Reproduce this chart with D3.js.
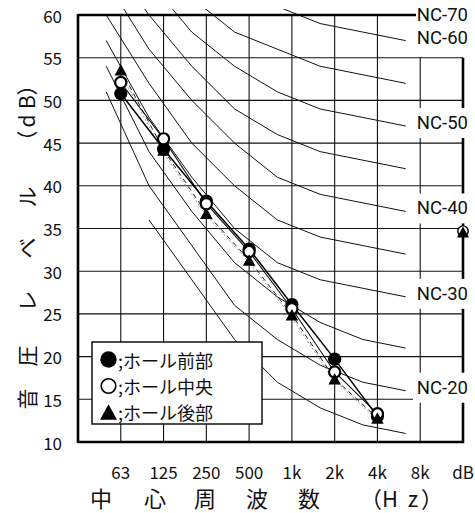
<!DOCTYPE html>
<html><head><meta charset="utf-8">
<script src="https://cdn.jsdelivr.net/npm/d3@7"></script>
<style>body{margin:0;background:#fff}svg{display:block}</style>
</head><body><svg id="c" width="475" height="513"></svg>
<script>
// ---- data ----
const bands = ["63","125","250","500","1k","2k","4k","8k","dB"];
const yTicks = [10,15,20,25,30,35,40,45,50,55,60];
const frontLv  = [50.8, 44.3, 38.2, 32.6, 26.1, 19.7, 13.0]; // ● ホール前部
const centerLv = [52.1, 45.5, 37.9, 32.3, 25.6, 18.2, 13.3]; // ○ ホール中央
const rearLv   = [53.6, 44.2, 36.8, 31.3, 24.9, 17.4, 12.8]; // ▲ ホール後部
const overallLv = [34.7, 34.7, 34.6]; // dB column: 前部, 中央, 後部
const ncNames = ["NC-15","NC-20","NC-25","NC-30","NC-35","NC-40","NC-45","NC-50","NC-55","NC-60","NC-65","NC-70"];
const ncCurves = [
  [null,36,29,22,17,14,12,11],
  [51,40,33,26,22,19,17,16],
  [54,44,37,31,27,24,22,21],
  [57,48,41,35,31,29,28,27],
  [60,52,45,40,36,34,33,32],
  [64,56,50,45,41,39,38,37],
  [67,60,54,49,46,44,43,42],
  [71,64,58,54,51,49,48,47],
  [74,67,62,58,56,54,53,52],
  [77,71,67,63,61,59,58,57],
  [80,75,71,68,66,64,63,62],
  [83,79,75,72,71,70,69,68]
];
const ncLabelled = ["NC-20","NC-30","NC-40","NC-50","NC-60","NC-70"];
const legendItems = [";ホール前部", ";ホール中央", ";ホール後部"];

// ---- scales ----
const svg = d3.select("#c");
const x = d3.scaleLinear().domain([-1, bands.length - 1]).range([78, 463]);
const y = d3.scaleLinear().domain([10, 60]).range([442, 15]);
const FONT = "'Noto Sans CJK JP','Noto Sans',sans-serif";
const NCFONT = "Roboto,'Noto Sans',sans-serif";
const ncShift = -0.34;

// gridlines
const g = svg.append("g");
yTicks.filter(v => v > 10 && v < 60).forEach(v => {
  g.append("line").attr("x1", x(-1)).attr("x2", x(8)).attr("y1", y(v)).attr("y2", y(v))
    .attr("stroke", "#111").attr("stroke-width", 1.1);
});
bands.slice(0, 7).forEach((b, i) => {
  g.append("line").attr("x1", x(i)).attr("x2", x(i)).attr("y1", y(60)).attr("y2", y(10))
    .attr("stroke", "#111").attr("stroke-width", 1.1);
});
g.append("line").attr("x1", x(7)).attr("x2", x(7)).attr("y1", y(55)).attr("y2", y(10))
  .attr("stroke", "#111").attr("stroke-width", 1.1);

// NC curves
svg.append("clipPath").attr("id", "clip").append("rect")
  .attr("x", x(-1)).attr("y", 9).attr("width", 392).attr("height", y(10) - 9);
const ncLine = d3.line().defined(d => d != null)
  .x((d, i) => x(i + ncShift)).y(d => y(d));
svg.append("g").attr("clip-path", "url(#clip)").selectAll("path").data(ncCurves).join("path")
  .attr("d", ncLine).attr("fill", "none").attr("stroke", "#111").attr("stroke-width", 1);

// frame
const fr = svg.append("g").attr("stroke", "#000").attr("stroke-width", 2.6).attr("fill", "none");
fr.append("line").attr("x1", x(-1)).attr("x2", x(-1)).attr("y1", y(60) - 1).attr("y2", y(10) + 1);
fr.append("line").attr("x1", x(-1)).attr("x2", x(8) + 1).attr("y1", y(10)).attr("y2", y(10));
fr.append("line").attr("x1", x(-1)).attr("x2", 416).attr("y1", y(60)).attr("y2", y(60));
fr.append("line").attr("x1", x(8)).attr("x2", x(8)).attr("y1", y(55)).attr("y2", y(10) + 1);

// NC labels
ncLabelled.forEach(n => {
  const k = ncNames.indexOf(n);
  const ly = Math.max(y(ncCurves[k][7]) - 3, y(60) - 0.5);
  if (n !== "NC-70" && n !== "NC-60")
    svg.append("rect").attr("x", 413).attr("y", ly - 15).attr("width", 62).attr("height", 30).attr("fill", "#fff");
  svg.append("text").attr("x", 468).attr("y", ly).attr("text-anchor", "end")
    .attr("dominant-baseline", "central").attr("font-family", NCFONT).attr("font-size", 18.5)
    .attr("fill", "#111").text(n);
});

// data lines
const dl = d3.line().x((d, i) => x(i)).y(d => y(d));
svg.append("path").attr("d", dl(rearLv)).attr("fill", "none").attr("stroke", "#999")
  .attr("stroke-width", 1).attr("stroke-dasharray", "2,2").attr("transform", "translate(-2,0)");
svg.append("path").attr("d", dl(rearLv)).attr("fill", "none").attr("stroke", "#222")
  .attr("stroke-width", 1).attr("stroke-dasharray", "5,4");
svg.append("path").attr("d", dl(centerLv)).attr("fill", "none").attr("stroke", "#111").attr("stroke-width", 1.1);
svg.append("path").attr("d", dl(frontLv)).attr("fill", "none").attr("stroke", "#000").attr("stroke-width", 1.5);

// markers
function tri(cx, cy, s) {
  const h = s * 0.92;
  return `M${cx},${cy - h / 2}L${cx + s / 2},${cy + h / 2}L${cx - s / 2},${cy + h / 2}Z`;
}
const mk = svg.append("g");
frontLv.forEach((v, i) => mk.append("circle").attr("cx", x(i)).attr("cy", y(v)).attr("r", 6.6).attr("fill", "#000"));
centerLv.forEach((v, i) => mk.append("circle").attr("cx", x(i)).attr("cy", y(v)).attr("r", 5.6)
  .attr("fill", "#fff").attr("stroke", "#000").attr("stroke-width", 2.2));
rearLv.forEach((v, i) => mk.append("path").attr("d", tri(x(i), y(v), 12.5)).attr("fill", "#000"));
// overall dB column
mk.append("circle").attr("cx", x(8)).attr("cy", y(overallLv[0])).attr("r", 5.4).attr("fill", "#000");
mk.append("circle").attr("cx", x(8)).attr("cy", y(overallLv[1])).attr("r", 5.2)
  .attr("fill", "#fff").attr("stroke", "#000").attr("stroke-width", 1.4);
mk.append("path").attr("d", tri(x(8), y(overallLv[2]), 12)).attr("fill", "#000");

// y tick labels
svg.append("g").selectAll("text").data(yTicks).join("text")
  .attr("x", 62).attr("y", d => y(d)).attr("text-anchor", "end").attr("dominant-baseline", "central")
  .attr("font-family", FONT).attr("font-size", 17).attr("fill", "#111").text(d => d);

// x tick labels
svg.append("g").selectAll("text").data(bands).join("text")
  .attr("x", (d, i) => x(i)).attr("y", 471).attr("text-anchor", "middle").attr("dominant-baseline", "central")
  .attr("font-family", FONT).attr("font-size", 17).attr("fill", "#111").text(d => d);

// x title
const xTitle = [["中",101],["心",155],["周",205],["波",257],["数",309],["（",371],["H",390],["z",413],["）",432]];
svg.append("g").selectAll("text").data(xTitle).join("text")
  .attr("x", d => d[1]).attr("y", 496.5).attr("text-anchor", "middle").attr("dominant-baseline", "central")
  .attr("font-family", FONT).attr("font-size", 22).attr("fill", "#111").text(d => d[0]);

// y title (rotated)
const yTitle = [["音",399],["圧",356],["レ",301],["ベ",248],["ル",197],["（",141],["d",121],["B",102],["）",85]];
svg.append("g").selectAll("text").data(yTitle).join("text")
  .attr("transform", d => `translate(26,${d[1]}) rotate(-90)`)
  .attr("text-anchor", "middle").attr("dominant-baseline", "central")
  .attr("font-family", FONT).attr("font-size", 21).attr("fill", "#111").text(d => d[0]);

// legend
const lg = svg.append("g");
lg.append("rect").attr("x", 92).attr("y", 342).attr("width", 170).attr("height", 82)
  .attr("fill", "#fff").attr("stroke", "#000").attr("stroke-width", 1.4);
const rowY = [359.5, 386, 412];
lg.append("circle").attr("cx", 108.5).attr("cy", rowY[0]).attr("r", 8.2).attr("fill", "#000");
lg.append("circle").attr("cx", 108.5).attr("cy", rowY[1]).attr("r", 7.3).attr("fill", "#fff")
  .attr("stroke", "#000").attr("stroke-width", 1.6);
lg.append("path").attr("d", tri(108.5, rowY[2], 17)).attr("fill", "#000");
legendItems.forEach((t, i) => {
  lg.append("text").attr("x", 118).attr("y", rowY[i]).attr("dominant-baseline", "central")
    .attr("font-family", FONT).attr("font-size", 18).attr("fill", "#111").text(t);
});
</script></body></html>
